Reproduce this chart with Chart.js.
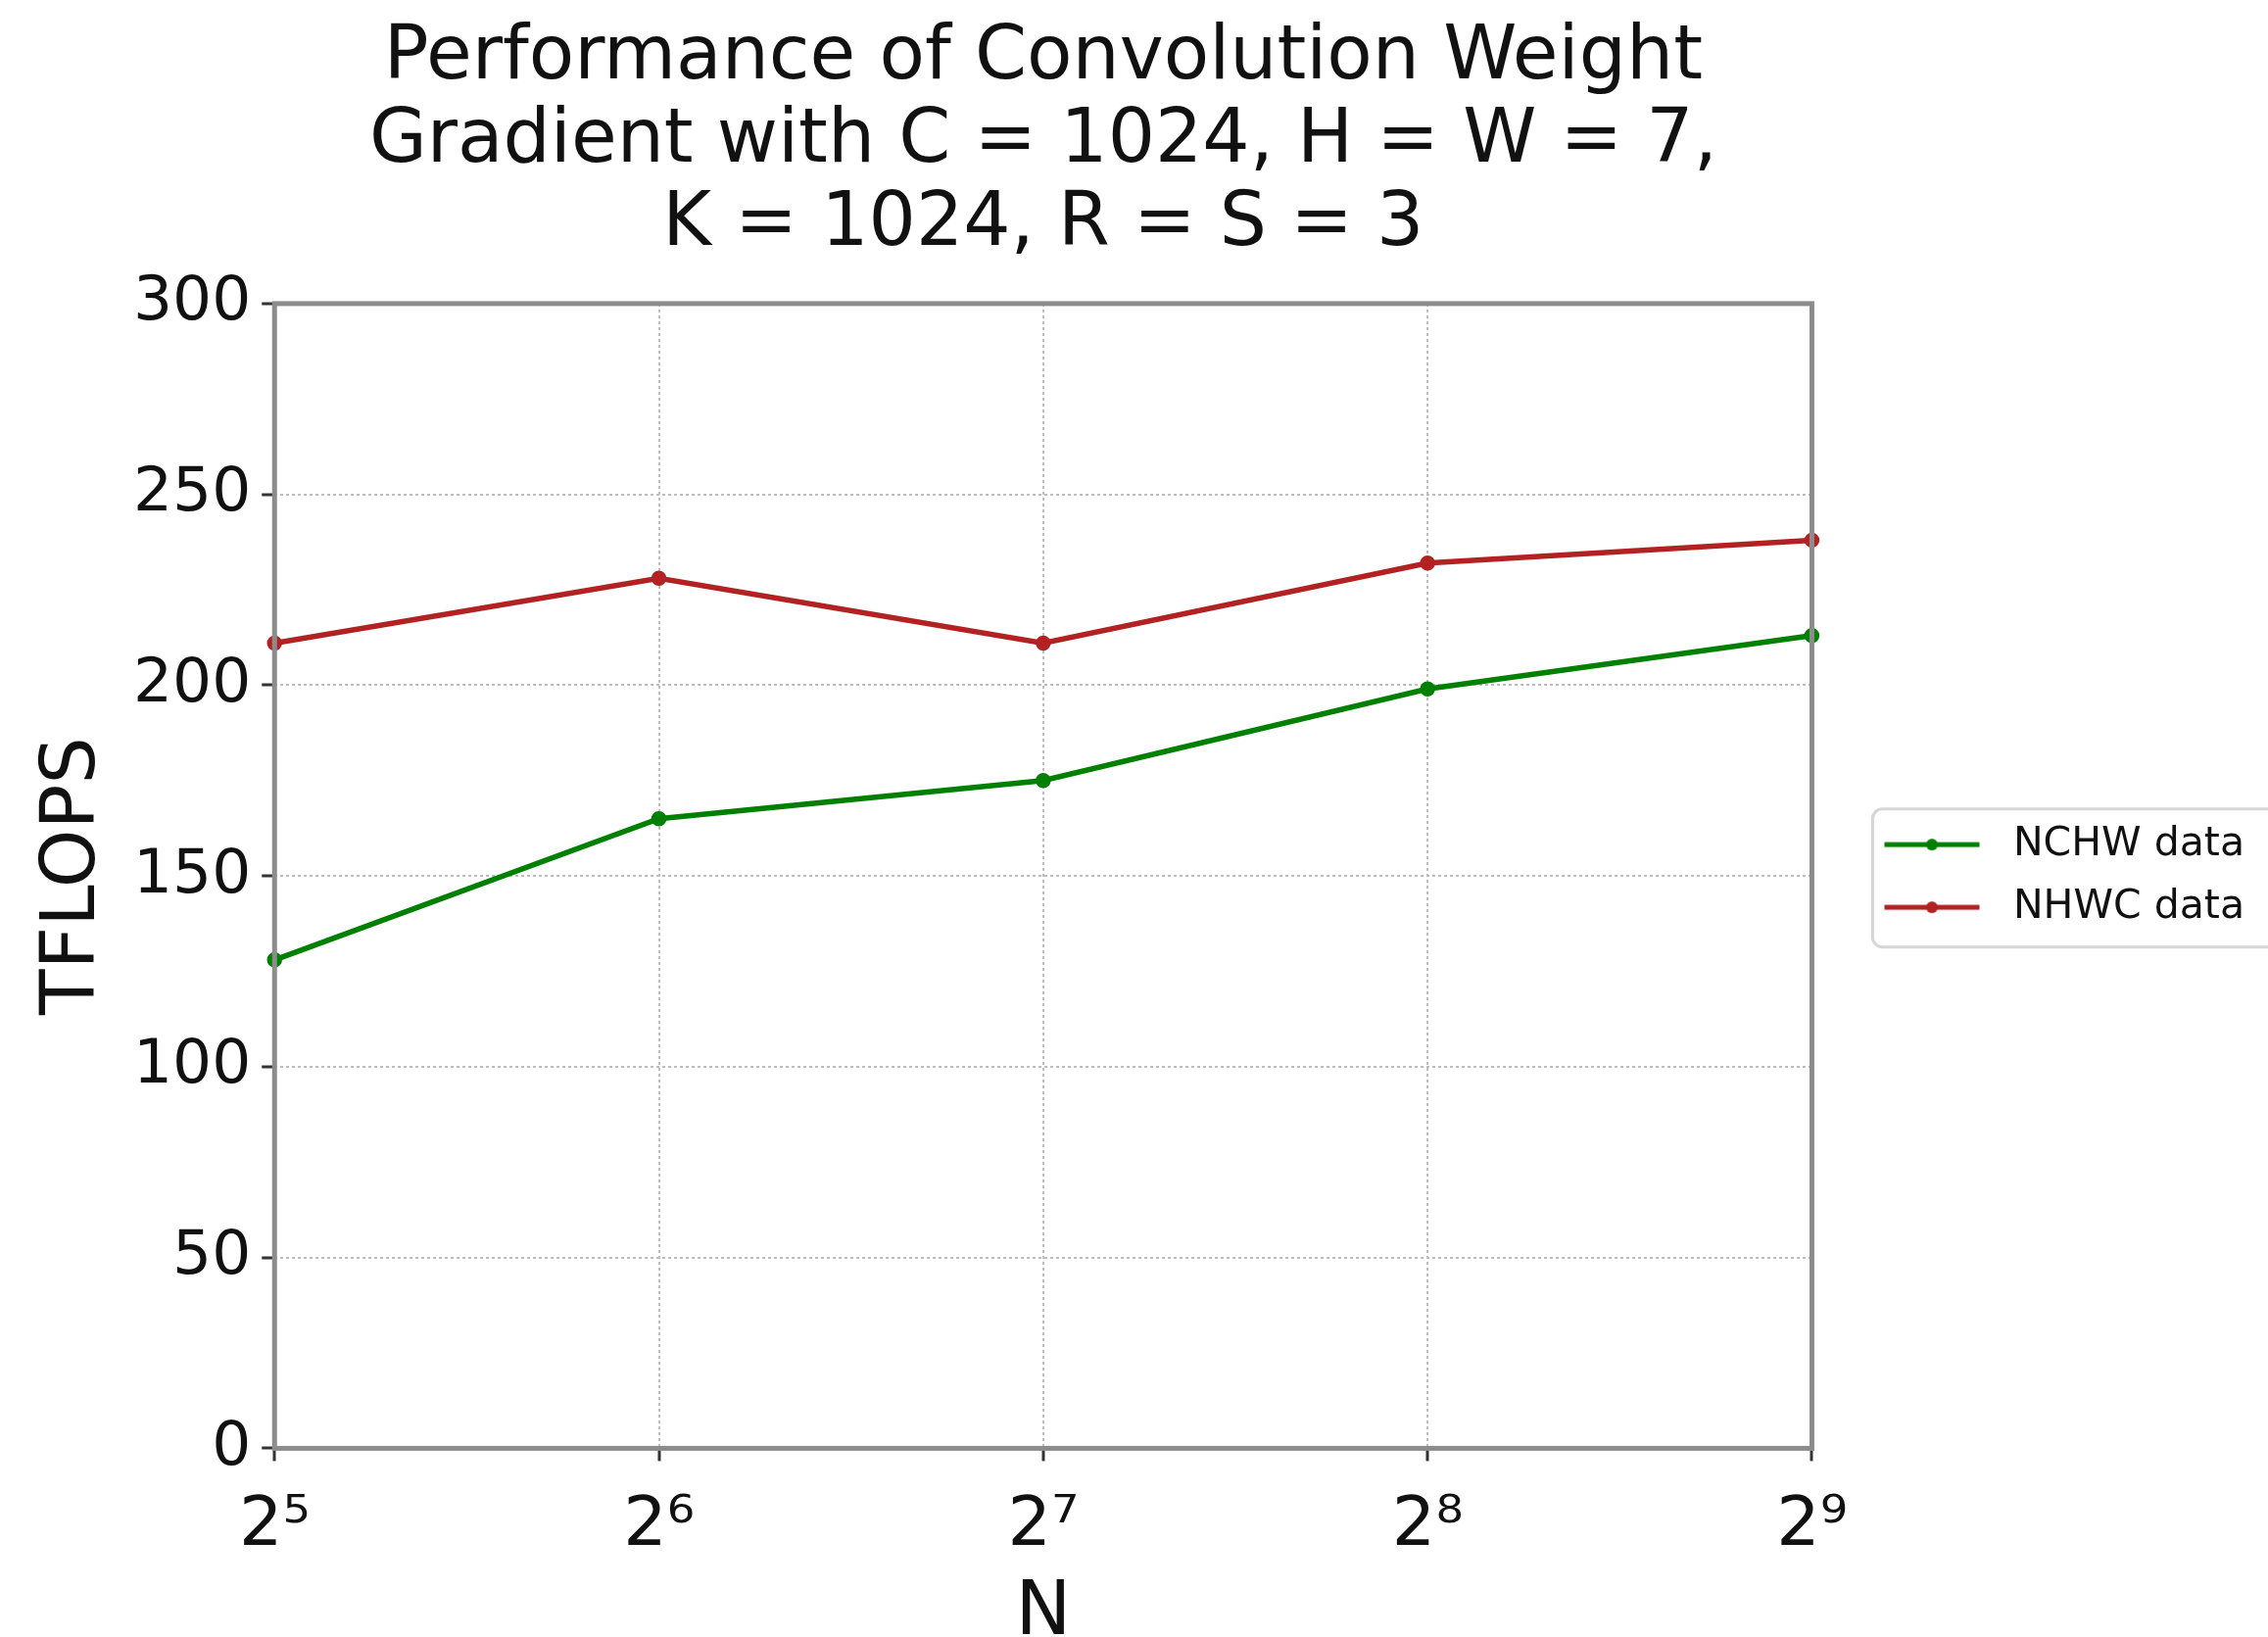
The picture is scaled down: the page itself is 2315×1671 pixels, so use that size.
<!DOCTYPE html>
<html>
<head>
<meta charset="utf-8">
<script src="https://cdn.jsdelivr.net/npm/chart.js@4.4.1/dist/chart.umd.min.js"></script>
<style>
  html, body { margin: 0; padding: 0; background: #fff; overflow: hidden; }
  #wrap { width: 2315px; height: 1671px; position: relative; }
</style>
</head>
<body>
<div id="wrap"><canvas id="myChart"></canvas></div>
<script>
// x = N (powers of two), shown as 2^k
const nLabels = ['2⁵', '2⁶', '2⁷', '2⁸', '2⁹']
const nchwData = [128, 165, 175, 199, 213]
const nhwcData = [211, 228, 211, 232, 238]
const seriesNames = ['NCHW data', 'NHWC data']
const seriesColors = ['#008000', '#b22222']
const yTicks = [0, 50, 100, 150, 200, 250, 300]

const FONT = "'DejaVu Sans', sans-serif"

// legend sample: line with a dot, with transparent room on the left
function legendSample(color) {
  const c = document.createElement('canvas')
  c.width = 162
  c.height = 20
  const g = c.getContext('2d')
  g.strokeStyle = color
  g.lineWidth = 5
  g.beginPath()
  g.moveTo(51, 10)
  g.lineTo(148, 10)
  g.stroke()
  g.fillStyle = color
  g.beginPath()
  g.arc(99.5, 10, 6, 0, Math.PI * 2)
  g.fill()
  return c
}
const samples = seriesColors.map(legendSample)

// frame around the plot + the legend box
const framePlugin = {
  id: 'frame',
  beforeDraw(chart) {
    const lg = chart.legend
    if (!lg || !lg.legendHitBoxes || !lg.legendHitBoxes.length) return
    const hb = lg.legendHitBoxes
    const ctx = chart.ctx
    const x = chart.chartArea.right + 62
    const y = hb[0].top - 16
    const h = hb[hb.length - 1].top + hb[hb.length - 1].height - hb[0].top + 36
    ctx.save()
    ctx.fillStyle = '#fff'
    ctx.strokeStyle = '#d6d6d6'
    ctx.lineWidth = 3
    ctx.beginPath()
    ctx.roundRect(x, y, 500, h, 10)
    ctx.fill()
    ctx.stroke()
    ctx.restore()
  },
  afterDatasetsDraw(chart) {
    const a = chart.chartArea
    const ctx = chart.ctx
    ctx.save()
    ctx.strokeStyle = '#8c8c8c'
    ctx.lineWidth = 5
    ctx.strokeRect(a.left, a.top, a.right - a.left, a.bottom - a.top)
    ctx.restore()
  },
}

function handleChart() {
  const el = document.getElementById('myChart')
  el.width = 2315
  el.height = 1671

  const chartConfig = {
    type: 'line',
    data: {
      labels: nLabels,
      datasets: [
        {
          label: seriesNames[0],
          data: nchwData,
          borderColor: seriesColors[0],
          backgroundColor: seriesColors[0],
          borderWidth: 5.5,
          pointRadius: 5,
          pointHoverRadius: 5,
          tension: 0,
        },
        {
          label: seriesNames[1],
          data: nhwcData,
          borderColor: seriesColors[1],
          backgroundColor: seriesColors[1],
          borderWidth: 5.5,
          pointRadius: 5,
          pointHoverRadius: 5,
          tension: 0,
        },
      ],
    },
    options: {
      responsive: false,
      animation: false,
      devicePixelRatio: 1,
      layout: { padding: { left: 20, right: 14, top: 0, bottom: 0 } },
      plugins: {
        title: {
          display: true,
          fullSize: false,
          text: [
            'Performance of Convolution Weight',
            'Gradient with C = 1024, H = W = 7,',
            'K = 1024, R = S = 3',
          ],
          color: '#111',
          font: { family: FONT, size: 76, weight: 'normal', lineHeight: 1.118 },
          padding: { top: 18, bottom: 37 },
        },
        legend: {
          position: 'right',
          fullSize: false,
          align: 'center',
          labels: {
            usePointStyle: true,
            pointStyleWidth: 162,
            padding: 23,
            color: '#111',
            font: { family: FONT, size: 41 },
            generateLabels(chart) {
              const items = Chart.defaults.plugins.legend.labels.generateLabels(chart)
              items.forEach((it, i) => { it.pointStyle = samples[i] })
              return items
            },
          },
        },
        tooltip: { enabled: false },
      },
      scales: {
        x: {
          type: 'category',
          offset: false,
          grid: {
            offset: false,
            color: '#bdbdbd',
            lineWidth: 2,
            tickColor: '#333',
            tickLength: 13,
            tickWidth: 3,
          },
          border: { display: false, dash: [3, 3] },
          ticks: {
            color: '#111',
            padding: 25,
            maxRotation: 0,
            font: { family: FONT, size: 70 },
          },
          title: {
            display: true,
            text: 'N',
            color: '#111',
            font: { family: FONT, size: 76, lineHeight: 0.6 },
            padding: { top: 0, bottom: 0 },
          },
        },
        y: {
          min: 0,
          max: 300,
          afterBuildTicks(scale) {
            scale.ticks = yTicks.map(v => ({ value: v }))
          },
          grid: {
            color: '#bdbdbd',
            lineWidth: 2,
            tickColor: '#333',
            tickLength: 13,
            tickWidth: 3,
          },
          border: { display: false, dash: [3, 3] },
          ticks: {
            color: '#111',
            padding: 11,
            font: { family: FONT, size: 63 },
          },
          title: {
            display: true,
            text: 'TFLOPS',
            color: '#111',
            font: { family: FONT, size: 76, lineHeight: 1.0 },
            padding: { top: 18, bottom: 11 },
          },
        },
      },
    },
    plugins: [framePlugin],
  }

  const chart = new Chart(el.getContext('2d'), chartConfig)
}

window.addEventListener('load', handleChart)
</script>
</body>
</html>
